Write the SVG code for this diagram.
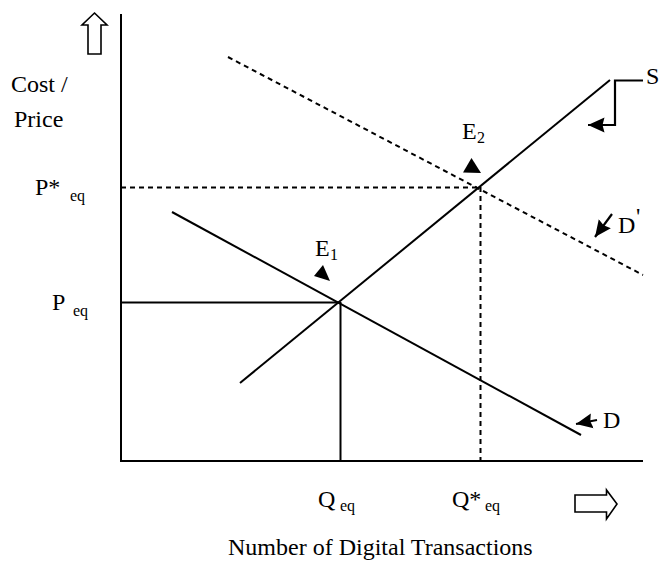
<svg xmlns="http://www.w3.org/2000/svg" width="659" height="563" viewBox="0 0 659 563">
  <style>
    .ln { stroke: #000; stroke-width: 2; fill: none; }
    .dash { stroke: #000; stroke-width: 2; fill: none; stroke-dasharray: 5 4; }
    .blk { stroke: #000; stroke-width: 1.6; fill: #fff; }
    .ptr { stroke: #000; stroke-width: 2.2; fill: none; marker-end: url(#head); }
    .t { font-family: "Liberation Serif", "Times New Roman", serif; font-size: 24px; fill: #000; }
    .s { font-family: "Liberation Serif", "Times New Roman", serif; font-size: 16px; fill: #000; }
  </style>
  <defs>
    <marker id="head" markerUnits="userSpaceOnUse" markerWidth="18" markerHeight="18" viewBox="0 0 18 18" refX="16.5" refY="8" orient="auto">
      <path d="M0,0.5 L16.5,8 L0,15.5 L2,8 Z" fill="#000"/>
    </marker>
  </defs>
  <rect width="659" height="563" fill="#fff"/>

  <!-- axes -->
  <g id="axes">
    <line class="ln" x1="121" y1="14" x2="121" y2="462"/>
    <line class="ln" x1="120" y1="461" x2="643" y2="461"/>
    <path class="blk" d="M94.5,13 L107,25 L101,25 L101,54 L88,54 L88,25 L82,25 Z"/>
    <path class="blk" d="M575,495 L606.5,495 L606.5,490 L617,504 L606.5,519 L606.5,512 L575,512 Z"/>
  </g>

  <!-- supply and demand curves with equilibrium guides -->
  <g id="connectors">
    <line id="supply" class="ln" x1="240" y1="383" x2="610" y2="80"/>
    <line id="demand" class="ln" x1="172" y1="212" x2="581" y2="435"/>
    <line id="demand-shifted" class="dash" x1="228" y1="57" x2="643" y2="275"/>
    <line class="ln" x1="121" y1="302.5" x2="340" y2="302.5"/>
    <line class="ln" x1="340.5" y1="302" x2="340.5" y2="461"/>
    <line class="dash" x1="121" y1="187.5" x2="480" y2="187.5"/>
    <line class="dash" x1="480.5" y1="187" x2="480.5" y2="461"/>
    <path class="ptr" d="M643,80.5 L615,80.5 L615,125 L588,125" stroke-width="2"/>
    <line class="ptr" x1="612" y1="214" x2="595" y2="237"/>
    <line class="ptr" x1="597" y1="420" x2="576" y2="424"/>
    <path d="M471.5,158 L481,173 L463,172.5 Z" fill="#000"/>
    <path d="M323,265 L330,281 L314,276 Z" fill="#000"/>
  </g>

  <!-- labels -->
  <g id="labels">
    <text class="t" x="11" y="92">Cost /</text>
    <text class="t" x="14" y="127">Price</text>
    <text class="t" x="35" y="195">P*</text>
    <text class="s" x="70" y="201">eq</text>
    <text class="t" x="52" y="310">P</text>
    <text class="s" x="73" y="316">eq</text>
    <text class="t" x="462" y="139">E</text>
    <text class="s" x="477" y="143">2</text>
    <text class="t" x="315" y="256">E</text>
    <text class="s" x="330" y="260">1</text>
    <text class="t" x="646" y="84">S</text>
    <text class="t" x="618" y="233">D</text>
    <text class="t" x="636" y="224" font-size="34">'</text>
    <text class="t" x="603" y="428">D</text>
    <text class="t" x="318" y="507">Q</text>
    <text class="s" x="340" y="511">eq</text>
    <text class="t" x="452" y="507">Q*</text>
    <text class="s" x="485" y="511">eq</text>
    <text class="t" x="228" y="555">Number of Digital Transactions</text>
  </g>
</svg>
